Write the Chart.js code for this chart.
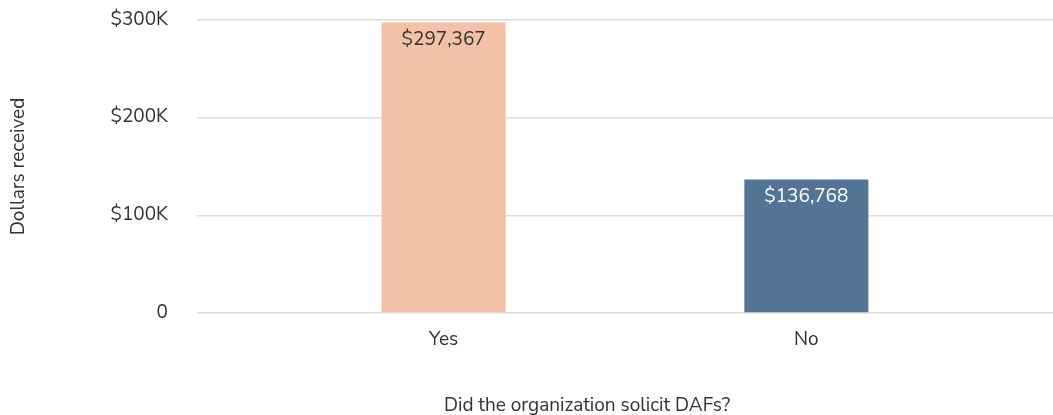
<!DOCTYPE html>
<html>
<head>
<meta charset="utf-8">
<script src="https://cdn.jsdelivr.net/npm/chart.js@4/dist/chart.umd.min.js"></script>
<style>
  html, body { margin: 0; padding: 0; background: #fff; }
  #wrap { width: 1053px; height: 415px; }
</style>
</head>
<body>
<div id="wrap"><canvas id="chart"></canvas></div>
<script>
const categories = ['Yes', 'No'];
const dollarsReceived = [297367, 136768];
const yTicks = [0, 100000, 200000, 300000];

const FONT = '"Nunito Sans", Lato, sans-serif';
const TEXT = '#333333';
const barColors = ['#f3c1a7', '#537494'];
const valueColors = ['#333333', '#ffffff'];

const money = (v) => '$' + v.toLocaleString('en-US');

// value printed just inside the top of each bar
const barValues = {
  id: 'barValues',
  afterDatasetsDraw(chart) {
    const { ctx } = chart;
    const meta = chart.getDatasetMeta(0);
    ctx.save();
    ctx.font = '19px ' + FONT;
    ctx.textAlign = 'center';
    ctx.textBaseline = 'middle';
    meta.data.forEach((bar, i) => {
      ctx.fillStyle = valueColors[i];
      ctx.fillText(money(dollarsReceived[i]), bar.x, bar.y + 18);
    });
    ctx.restore();
  }
};

// x axis caption sits a bit left of the plot centre
const xCaption = {
  id: 'xCaption',
  afterDraw(chart) {
    const { ctx, chartArea } = chart;
    ctx.save();
    ctx.font = '19px ' + FONT;
    ctx.fillStyle = TEXT;
    ctx.textAlign = 'center';
    ctx.textBaseline = 'alphabetic';
    ctx.fillText('Did the organization solicit DAFs?', (chartArea.left + chartArea.right) / 2 - 38, chart.height - 4);
    ctx.restore();
  }
};

new Chart(document.getElementById('chart'), {
  type: 'bar',
  data: {
    datasets: [{
      data: dollarsReceived.map((v, i) => ({ x: i, y: v })),
      backgroundColor: barColors,
      borderWidth: 0,
      categoryPercentage: 1,
      barPercentage: 0.342
    }]
  },
  options: {
    responsive: true,
    maintainAspectRatio: false,
    animation: false,
    layout: { padding: { top: 20, left: 0, right: 0, bottom: 0 } },
    plugins: { legend: { display: false }, tooltip: { enabled: false } },
    scales: {
      x: {
        type: 'linear',
        offset: false,
        min: -0.68,
        max: 1.68,
        grid: { display: false },
        border: { display: false },
        afterBuildTicks: (scale) => { scale.ticks = categories.map((c, i) => ({ value: i })); },
        afterFit: (scale) => { scale.height = 102; },
        ticks: {
          autoSkip: false,
          padding: 8,
          color: TEXT,
          font: { family: FONT, size: 19 },
          callback: (v) => categories[v] ?? ''
        }
      },
      y: {
        min: 0,
        max: 300000,
        afterBuildTicks: (scale) => { scale.ticks = yTicks.map((v) => ({ value: v })); },
        afterFit: (scale) => {
          scale.width = 197;
          scale.paddingTop = 0;
          scale.paddingBottom = 0;
        },
        grid: { color: '#dcdcdc', lineWidth: 1.5, drawTicks: false },
        border: { display: false },
        ticks: {
          padding: 29,
          color: TEXT,
          font: { family: FONT, size: 19 },
          callback: (v) => (v === 0 ? '0' : '$' + v / 1000 + 'K')
        },
        title: {
          display: true,
          text: 'Dollars received',
          color: TEXT,
          font: { family: FONT, size: 19 },
          padding: { top: 8, bottom: 0 }
        }
      }
    }
  },
  plugins: [barValues, xCaption]
});
</script>
</body>
</html>
